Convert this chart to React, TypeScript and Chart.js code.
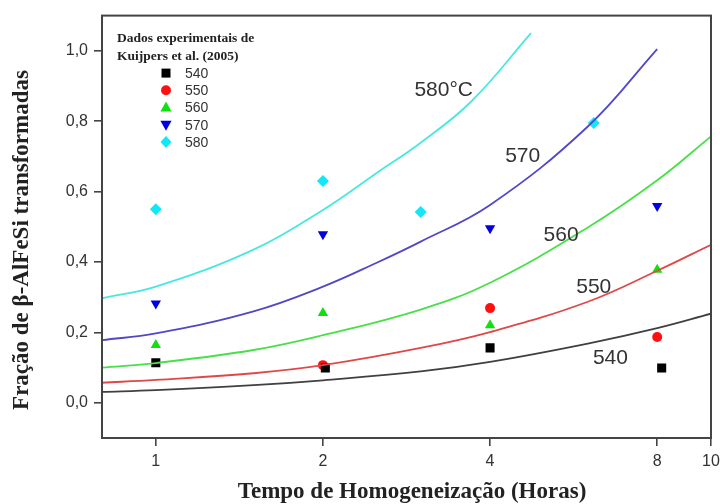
import { useEffect, useRef } from "react";
import { Chart, registerables } from "chart.js";

Chart.register(...registerables);

// Axis ticks
const xTicks = [1, 2, 4, 8, 10];
const yTicks = [0, 0.2, 0.4, 0.6, 0.8, 1.0];

// Model curves
const curveX = [0.8, 1, 1.5, 2, 3, 4, 6, 8, 10];
const curve540 = [0.031, 0.036, 0.05, 0.064, 0.089, 0.116, 0.168, 0.212, 0.253];
const curve550 = [0.057, 0.065, 0.084, 0.107, 0.156, 0.201, 0.287, 0.375, 0.449];
const curve560 = [0.1, 0.113, 0.15, 0.192, 0.265, 0.341, 0.498, 0.632, 0.757];
const curve570X = [0.8, 1, 1.5, 2, 2.5, 3, 4, 6, 8];
const curve570 = [0.178, 0.197, 0.26, 0.33, 0.398, 0.458, 0.562, 0.785, 1.005];
const curve580X = [0.8, 1, 1.5, 2, 2.5, 3, 3.7, 4.74];
const curve580 = [0.297, 0.33, 0.435, 0.548, 0.653, 0.739, 0.856, 1.05];

// Experimental data (Kuijpers et al. 2005)
const exp540X = [1, 2.02, 4, 8.15];
const exp540Y = [0.114, 0.099, 0.156, 0.099];
const exp550X = [2, 4, 8];
const exp550Y = [0.107, 0.269, 0.187];
const exp560X = [1, 2, 4, 8];
const exp560Y = [0.164, 0.255, 0.22, 0.378];
const exp570X = [1, 2, 4, 8];
const exp570Y = [0.282, 0.479, 0.496, 0.559];
const exp580X = [1, 2, 3, 6.15];
const exp580Y = [0.55, 0.63, 0.542, 0.795];

// Curve labels
const curveLabelText = ["540", "550", "560", "570", "580\u00B0C"];
const curveLabelX = [6.59, 6.15, 5.37, 4.58, 3.3];
const curveLabelY = [0.126, 0.329, 0.475, 0.7, 0.887];

const legendLabels = ["540", "550", "560", "570", "580"];

const pts = (xs: number[], ys: number[]) => xs.map((x, i) => ({ x, y: ys[i] }));

type Shape = "square" | "circle" | "tri" | "triDown" | "diamond";

function drawMarker(ctx: CanvasRenderingContext2D, shape: Shape, x: number, y: number, color: string) {
  ctx.save();
  ctx.fillStyle = color;
  ctx.beginPath();
  if (shape === "square") {
    ctx.rect(x - 4.5, y - 4.5, 9, 9);
  } else if (shape === "circle") {
    ctx.arc(x, y, 5, 0, Math.PI * 2);
  } else if (shape === "tri") {
    ctx.moveTo(x, y - 6);
    ctx.lineTo(x + 5.6, y + 4);
    ctx.lineTo(x - 5.6, y + 4);
    ctx.closePath();
  } else if (shape === "triDown") {
    ctx.moveTo(x, y + 6);
    ctx.lineTo(x + 5.6, y - 4);
    ctx.lineTo(x - 5.6, y - 4);
    ctx.closePath();
  } else {
    ctx.moveTo(x, y - 6);
    ctx.lineTo(x + 5.5, y);
    ctx.lineTo(x, y + 6);
    ctx.lineTo(x - 5.5, y);
    ctx.closePath();
  }
  ctx.fill();
  ctx.restore();
}

const legendShapes: Shape[] = ["square", "circle", "tri", "triDown", "diamond"];
const legendColors = ["#000000", "#ff1010", "#10e010", "#0000e0", "#10e8f8"];

const overlayPlugin = {
  id: "overlay",
  afterDatasetsDraw(chart: any) {
    const { ctx, chartArea, scales } = chart;
    const { left, top, right, bottom } = chartArea;
    ctx.save();
    // frame
    ctx.strokeStyle = "#444";
    ctx.lineWidth = 2;
    ctx.strokeRect(left, top, right - left, bottom - top);

    // curve labels
    ctx.fillStyle = "#333";
    ctx.font = "21px 'Liberation Sans', Arial, sans-serif";
    ctx.textAlign = "center";
    ctx.textBaseline = "middle";
    curveLabelText.forEach((t, i) => {
      ctx.fillText(t, scales.x.getPixelForValue(curveLabelX[i]), scales.y.getPixelForValue(curveLabelY[i]));
    });

    // legend
    ctx.textAlign = "left";
    ctx.textBaseline = "alphabetic";
    ctx.fillStyle = "#222";
    ctx.font = "bold 13.5px 'Liberation Serif', 'Times New Roman', serif";
    ctx.fillText("Dados experimentais de", left + 15, top + 26);
    ctx.fillText("Kuijpers et al. (2005)", left + 15, top + 44);
    ctx.font = "14px 'Liberation Sans', Arial, sans-serif";
    ctx.textBaseline = "middle";
    legendLabels.forEach((t, i) => {
      const yy = top + 57.5 + i * 17.2;
      drawMarker(ctx, legendShapes[i], left + 64, yy, legendColors[i]);
      ctx.fillStyle = "#333";
      ctx.fillText(t, left + 83, yy + 1);
    });

    // axis titles
    ctx.fillStyle = "#222";
    ctx.font = "bold 23px 'Liberation Serif', 'Times New Roman', serif";
    ctx.textAlign = "center";
    ctx.textBaseline = "middle";
    ctx.fillText("Tempo de Homogeneiza\u00E7\u00E3o (Horas)", 412, 492);
    ctx.translate(22, 240);
    ctx.rotate(-Math.PI / 2);
    ctx.fillText("Fra\u00E7\u00E3o de \u03B2-AlFeSi transformadas", 0, 0);
    ctx.restore();
  },
};

export default function App() {
  const ref = useRef<HTMLCanvasElement | null>(null);
  useEffect(() => {
    if (!ref.current) return;
    const lineDs = (label: string, xs: number[], ys: number[], color: string) => ({
      type: "line" as const,
      label,
      data: pts(xs, ys),
      borderColor: color,
      borderWidth: 1.8,
      pointRadius: 0,
      showLine: true,
      fill: false,
      tension: 0.4,
    });
    const scatDs = (label: string, xs: number[], ys: number[], color: string, style: string, radius: number, rotation = 0) => ({
      type: "scatter" as const,
      label,
      data: pts(xs, ys),
      backgroundColor: color,
      borderColor: color,
      borderWidth: 0,
      pointStyle: style,
      pointRadius: radius,
      pointRotation: rotation,
      showLine: false,
    });
    const chart = new Chart(ref.current, {
      type: "scatter",
      data: {
        datasets: [
          lineDs("540 model", curveX, curve540, "#404040"),
          lineDs("550 model", curveX, curve550, "#e04848"),
          lineDs("560 model", curveX, curve560, "#48e048"),
          lineDs("570 model", curve570X, curve570, "#5048c8"),
          lineDs("580 model", curve580X, curve580, "#48e8e0"),
          scatDs("540", exp540X, exp540Y, "#000000", "rect", 6.4),
          scatDs("550", exp550X, exp550Y, "#ff1010", "circle", 5),
          scatDs("560", exp560X, exp560Y, "#10e010", "triangle", 6),
          scatDs("570", exp570X, exp570Y, "#0000e0", "triangle", 6, 180),
          scatDs("580", exp580X, exp580Y, "#10e8f8", "rectRot", 6),
        ] as any,
      },
      options: {
        animation: false,
        responsive: false,
        layout: { padding: { left: 0, top: 13, right: 9, bottom: 0 } },
        plugins: { legend: { display: false }, tooltip: { enabled: false } },
        scales: {
          x: {
            type: "logarithmic",
            min: 0.8,
            max: 10,
            afterBuildTicks: (axis: any) => {
              axis.ticks = xTicks.map((v) => ({ value: v }));
            },
            afterFit: (axis: any) => {
              axis.height = 66;
              axis.paddingLeft = 0;
              axis.paddingRight = 0;
            },
            border: { display: false },
            grid: { display: true, drawOnChartArea: false, drawTicks: true, tickLength: 8, color: "#444", lineWidth: 1.6 },
            ticks: {
              autoSkip: false,
              maxRotation: 0,
              padding: 6,
              color: "#333",
              font: { family: "'Liberation Sans', Arial, sans-serif", size: 16 },
              callback: (v: any) => String(v),
            },
          },
          y: {
            type: "linear",
            min: -0.1,
            max: 1.1,
            afterBuildTicks: (axis: any) => {
              axis.ticks = yTicks.map((v) => ({ value: v }));
            },
            afterFit: (axis: any) => {
              axis.width = 102;
            },
            border: { display: false },
            grid: { display: true, drawOnChartArea: false, drawTicks: true, tickLength: 8, color: "#444", lineWidth: 1.6 },
            ticks: {
              padding: 6,
              color: "#333",
              font: { family: "'Liberation Sans', Arial, sans-serif", size: 16 },
              callback: (v: any) => Number(v).toFixed(1).replace(".", ","),
            },
          },
        },
      },
      plugins: [overlayPlugin],
    });
    return () => chart.destroy();
  }, []);
  return (
    <div style={{ position: "absolute", left: 0, top: 0, width: 720, height: 504, background: "#fff" }}>
      <canvas ref={ref} width={720} height={504} style={{ display: "block" }} />
    </div>
  );
}
